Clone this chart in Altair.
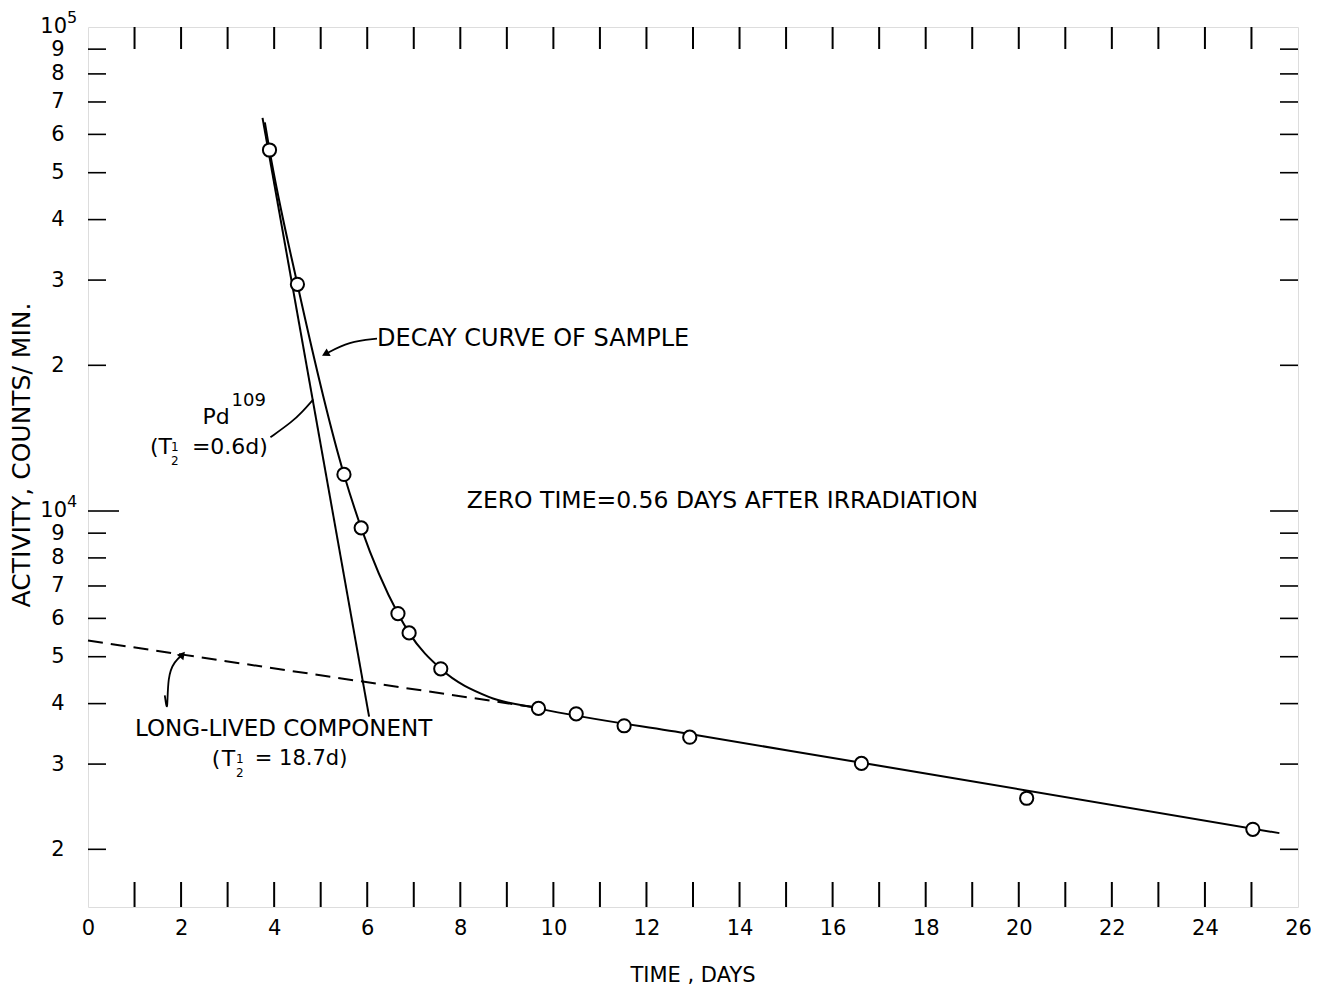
import altair as alt
import pandas as pd

FONT = "DejaVu Sans"

# measured sample points (days, counts/min)
pt_days = [3.90, 4.50, 5.50, 5.87, 6.66, 6.90, 7.58, 9.68, 10.49, 11.52, 12.93, 16.62, 20.17, 25.03]
pt_counts = [55700, 29400, 11900, 9230, 6140, 5600, 4720, 3910, 3810, 3600, 3410, 3010, 2550, 2200]

# decay curve of sample
curve_days = [3.80, 3.90, 4.50, 5.50, 5.87, 6.66, 6.90, 7.58, 8.61, 9.68, 12.93, 16.62, 25.6]
curve_counts = [63500, 55700, 29400, 11900, 9230, 6140, 5600, 4720, 4130, 3910, 3460, 3020, 2160]

# Pd-109 component line
pd_days = [3.75, 6.04]
pd_counts = [64900, 3760]

# long-lived component (dashed)
long_days = [0.0, 9.6]
long_counts = [5400, 3930]

# leader lines for annotations
lead_decay_days = [6.21, 5.61, 5.10]
lead_decay_counts = [22700, 22400, 21100]
lead_pd_days = [3.92, 4.39, 4.60, 4.84]
lead_pd_counts = [14200, 15300, 16000, 17000]
lead_long_days = [1.71, 1.65, 1.71, 1.86, 2.03]
lead_long_counts = [3780, 4160, 4570, 4890, 5050]

# axis ticks / labels
x_label_vals = list(range(0, 27, 2))
x_tick_vals = list(range(1, 26))
y_label_vals = [2000, 3000, 4000, 5000, 6000, 7000, 8000, 9000,
                20000, 30000, 40000, 50000, 60000, 70000, 80000, 90000]
y_decades = [10000, 100000]
y_decade_exp = ["4", "5"]

W, H = 1210, 880

xs = alt.Scale(domain=[0, 26], nice=False, zero=False)
ys = alt.Scale(type="log", domain=[1520, 100000], nice=False)

x_enc = alt.X("day:Q", scale=xs,
              axis=alt.Axis(values=x_label_vals, ticks=False, domain=False, grid=False,
                            labelFontSize=21, labelFont=FONT, labelColor="black",
                            labelPadding=10, labelFlush=False, labelOverlap=False,
                            title=None))
y_enc = alt.Y("count:Q", scale=ys,
              axis=alt.Axis(values=y_label_vals, ticks=False, domain=False, grid=False,
                            labelExpr="datum.value < 10000 ? format(round(datum.value/1000),'d') : format(round(datum.value/10000),'d')",
                            labelFontSize=21, labelFont=FONT, labelColor="black",
                            labelPadding=24, labelFlush=False, labelOverlap=False,
                            labelBound=False, title=None))


def df(d, c):
    return pd.DataFrame({"day": d, "count": c})


layers = []

# frame ticks (inward)
xt = pd.DataFrame({"day": x_tick_vals})
layers.append(alt.Chart(xt).mark_rule(color="black", strokeWidth=2).encode(
    x=x_enc, y=alt.value(H), y2=alt.value(H - 25)))
layers.append(alt.Chart(xt).mark_rule(color="black", strokeWidth=2).encode(
    x=x_enc, y=alt.value(0), y2=alt.value(22)))
yt = pd.DataFrame({"count": y_label_vals})
layers.append(alt.Chart(yt).mark_rule(color="black", strokeWidth=1.6).encode(
    y=y_enc, x=alt.value(0), x2=alt.value(18)))
layers.append(alt.Chart(yt).mark_rule(color="black", strokeWidth=1.6).encode(
    y=y_enc, x=alt.value(W), x2=alt.value(W - 18)))
yd = pd.DataFrame({"count": [10000]})
layers.append(alt.Chart(yd).mark_rule(color="black", strokeWidth=1.6).encode(
    y=y_enc, x=alt.value(0), x2=alt.value(31)))
layers.append(alt.Chart(yd).mark_rule(color="black", strokeWidth=1.6).encode(
    y=y_enc, x=alt.value(W), x2=alt.value(W - 28)))

# decade labels 10^4, 10^5
dec = pd.DataFrame({"count": y_decades, "exp": y_decade_exp, "ten": ["10", "10"]})
layers.append(alt.Chart(dec).mark_text(align="right", baseline="middle", fontSize=21,
                                       font=FONT, color="black").encode(
    y=y_enc, x=alt.value(-21), text="ten:N"))
layers.append(alt.Chart(dec).mark_text(align="left", baseline="middle", fontSize=16,
                                       font=FONT, color="black", dy=-9).encode(
    y=y_enc, x=alt.value(-21), text="exp:N"))

# curves
layers.append(alt.Chart(df(long_days, long_counts)).mark_line(
    color="black", strokeWidth=2, strokeDash=[15, 8]).encode(x=x_enc, y=y_enc))
layers.append(alt.Chart(df(pd_days, pd_counts)).mark_line(
    color="black", strokeWidth=2).encode(x=x_enc, y=y_enc))
layers.append(alt.Chart(df(curve_days, curve_counts)).mark_line(
    color="black", strokeWidth=2, interpolate="monotone").encode(x=x_enc, y=y_enc))

# leader lines
for d, c in [(lead_decay_days, lead_decay_counts), (lead_pd_days, lead_pd_counts),
             (lead_long_days, lead_long_counts)]:
    layers.append(alt.Chart(df(d, c)).mark_line(
        color="black", strokeWidth=1.8, interpolate="basis").encode(x=x_enc, y=y_enc))

# arrowheads
layers.append(alt.Chart(df([lead_decay_days[-1]], [lead_decay_counts[-1]])).mark_point(
    shape="triangle-left", filled=True, color="black", size=75, angle=332, opacity=1).encode(
    x=x_enc, y=y_enc))
layers.append(alt.Chart(df([lead_long_days[-1]], [lead_long_counts[-1]])).mark_point(
    shape="triangle-right", filled=True, color="black", size=75, angle=310, opacity=1).encode(
    x=x_enc, y=y_enc))

# sample points
layers.append(alt.Chart(df(pt_days, pt_counts)).mark_point(
    shape="circle", filled=True, fill="white", stroke="black", strokeWidth=2,
    size=175, opacity=1).encode(x=x_enc, y=y_enc))

# annotations
def txt(day, count, text, size=22, dx=0, dy=0, align="left"):
    return alt.Chart(pd.DataFrame({"day": [day], "count": [count], "t": [text]})).mark_text(
        align=align, baseline="middle", fontSize=size, font=FONT, color="black",
        dx=dx, dy=dy).encode(x=x_enc, y=y_enc, text="t:N")

layers.append(txt(6.21, 22650, "DECAY CURVE OF SAMPLE", size=24))
layers.append(txt(8.14, 10490, "ZERO TIME=0.56 DAYS AFTER IRRADIATION", size=23.5))
layers.append(txt(2.46, 15630, "Pd"))
layers.append(txt(2.46, 15630, "109", size=18, dx=29, dy=-16))
layers.append(txt(1.33, 13550, "(T"))
layers.append(txt(1.33, 13550, "1", size=12, dx=25, dy=0, align="center"))
layers.append(txt(1.33, 13550, "2", size=12, dx=25, dy=14, align="center"))
layers.append(txt(1.33, 13550, "=0.6d)", dx=42))
layers.append(txt(1.01, 3553, "LONG-LIVED  COMPONENT", size=23))
layers.append(txt(2.66, 3080, "("))
layers.append(txt(2.66, 3080, "T", dx=10))
layers.append(txt(2.66, 3080, "1", size=12, dx=28, dy=0, align="center"))
layers.append(txt(2.66, 3080, "2", size=12, dx=28, dy=14, align="center"))
layers.append(txt(2.66, 3080, "= 18.7d)", size=21, dx=43))

# axis titles
one = pd.DataFrame({"t": ["TIME , DAYS"]})
layers.append(alt.Chart(one).mark_text(align="center", baseline="middle", fontSize=21,
                                       font=FONT, color="black").encode(
    text="t:N", x=alt.value(W / 2), y=alt.value(H + 69)))
ttl = pd.DataFrame({"t": ["ACTIVITY,  COUNTS/ MIN."]})
layers.append(alt.Chart(ttl).mark_text(align="center", baseline="middle", fontSize=25,
                                       font=FONT, color="black", angle=270).encode(
    text="t:N", x=alt.value(-66), y=alt.value(428)))

chart = alt.layer(*layers).properties(
    width=W, height=H,
    autosize=alt.AutoSizeParams(type="none"),
    padding={"left": 80, "top": 19, "right": 13, "bottom": 83},
).configure_view(stroke="black", strokeWidth=2).configure(background="white")

chart.save("out.html", embed_options={"renderer": "svg", "actions": False})
